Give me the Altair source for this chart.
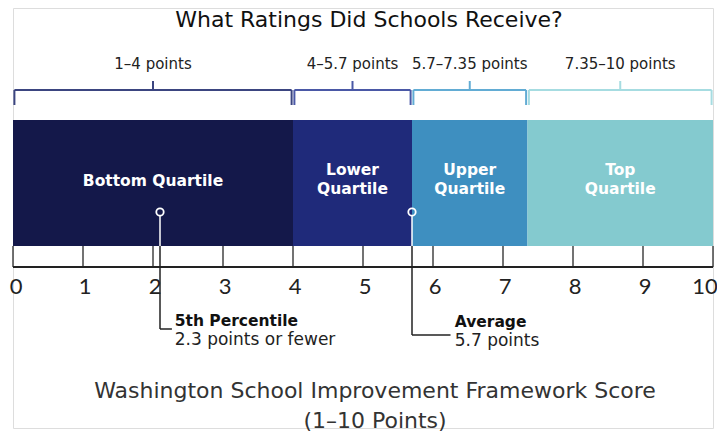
import altair as alt
import pandas as pd

# ---- data ----
quartiles = ["Bottom Quartile", "Lower\nQuartile", "Upper\nQuartile", "Top\nQuartile"]
starts = [0, 4, 5.7, 7.35]
ends = [4, 5.7, 7.35, 10]
range_labels = ["1–4 points", "4–5.7 points", "5.7–7.35 points", "7.35–10 points"]
bar_colors = ["#14184a", "#1f2a7a", "#3e8fc0", "#84cacf"]
bracket_colors = ["#3b4580", "#4a58a6", "#62acd4", "#a6dce1"]
ticks = list(range(0, 11))
marker_names = ["5th Percentile", "Average"]
marker_values = [2.1, 5.7]
marker_notes = ["2.3 points or fewer", "5.7 points"]

# ---- layout (pixels from top of plot area) ----
W, H = 700, 420
BAR_TOP, BAR_BOT = 112, 238
AXIS_Y = 259
TICK_LABEL_Y = 279
BR_Y, BR_END, BR_TOP, BR_LABEL = 82, 97, 73, 56
MARK_Y = 204
FONT = "DejaVu Sans"
NUMFONT = "Lato"

xs = alt.Scale(domain=[0, 10], range=[0, W], nice=False, zero=False)
ys = alt.Scale(domain=[H, 0], nice=False, zero=False)
X = lambda f: alt.X(f, scale=xs, axis=None)
Y = lambda f: alt.Y(f, scale=ys, axis=None)

q = pd.DataFrame({
    "name": quartiles, "start": starts, "end": ends, "rng": range_labels,
    "color": bar_colors, "bcolor": bracket_colors,
})
q["mid"] = (q["start"] + q["end"]) / 2
q["bs"] = q["start"] + 0.02
q["be"] = q["end"] - 0.02
q["top"] = BAR_TOP
q["bot"] = BAR_BOT
q["lab_y"] = [175, 164, 164, 164]
q["bry"] = BR_Y
q["bre"] = BR_END
q["brt"] = BR_TOP
q["bl"] = BR_LABEL

bars = alt.Chart(q).mark_rect().encode(
    x=X("start:Q"), x2="end:Q", y=Y("top:Q"), y2="bot:Q",
    color=alt.Color("color:N", scale=None),
)
bar_text = alt.Chart(q).mark_text(
    color="white", font=FONT, fontWeight="bold", fontSize=15.5,
    lineBreak="\n", lineHeight=19, baseline="top", dy=-9,
).encode(x=X("mid:Q"), y=Y("lab_y:Q"), text="name:N")

br_h = alt.Chart(q).mark_rule(strokeWidth=2).encode(
    x=X("bs:Q"), x2="be:Q", y=Y("bry:Q"), color=alt.Color("bcolor:N", scale=None))
br_l = alt.Chart(q).mark_rule(strokeWidth=2).encode(
    x=X("bs:Q"), y=Y("bry:Q"), y2="bre:Q", color=alt.Color("bcolor:N", scale=None))
br_r = alt.Chart(q).mark_rule(strokeWidth=2).encode(
    x=X("be:Q"), y=Y("bry:Q"), y2="bre:Q", color=alt.Color("bcolor:N", scale=None))
br_c = alt.Chart(q).mark_rule(strokeWidth=2).encode(
    x=X("mid:Q"), y=Y("brt:Q"), y2="bry:Q", color=alt.Color("bcolor:N", scale=None))
br_t = alt.Chart(q).mark_text(font=FONT, fontSize=15, color="#222").encode(
    x=X("mid:Q"), y=Y("bl:Q"), text="rng:N")

t = pd.DataFrame({"v": ticks, "lab": [str(v) for v in ticks]})
t["a"] = BAR_BOT
t["b"] = AXIS_Y
t["ly"] = TICK_LABEL_Y
t["dx"] = [3] + [2] * 9 + [-8]
tick_rules = alt.Chart(t).mark_rule(color="#444", strokeWidth=1.5).encode(
    x=X("v:Q"), y=Y("a:Q"), y2="b:Q")
tick_labels = alt.Chart(t).transform_calculate(
    vx="datum.v + datum.dx / %f" % (W / 10.0)
).mark_text(font=NUMFONT, fontSize=22, color="#222").encode(
    x=X("vx:Q"), y=Y("ly:Q"), text="lab:N")
baseline = alt.Chart(pd.DataFrame({"a": [0], "b": [10], "y": [AXIS_Y]})).mark_rule(
    color="#222", strokeWidth=2).encode(x=X("a:Q"), x2="b:Q", y=Y("y:Q"))

m = pd.DataFrame({"name": marker_names, "v": marker_values, "note": marker_notes})
m["my"] = MARK_Y
m["cy"] = MARK_Y + 4
m["bb"] = BAR_BOT
m["end_y"] = [321, 327]
m["hx"] = [2.27, 6.25]
m["tx"] = [2.31, 6.31]
m["t1"] = [313, 314]
m["t2"] = [332, 333]

m_white = alt.Chart(m).mark_rule(color="white", strokeWidth=1.5).encode(
    x=X("v:Q"), y=Y("cy:Q"), y2="bb:Q")
m_dark = alt.Chart(m).mark_rule(color="#222", strokeWidth=1.5).encode(
    x=X("v:Q"), y=Y("bb:Q"), y2="end_y:Q")
m_h = alt.Chart(m).mark_rule(color="#222", strokeWidth=1.5).encode(
    x=X("v:Q"), x2="hx:Q", y=Y("end_y:Q"))
m_circ = alt.Chart(m).mark_point(shape="circle", size=55, stroke="white",
                                 strokeWidth=1.8, filled=False, opacity=1).encode(
    x=X("v:Q"), y=Y("my:Q"))
m_t1 = alt.Chart(m).mark_text(font=FONT, fontSize=15.5, fontWeight="bold", color="#111",
                              align="left").encode(x=X("tx:Q"), y=Y("t1:Q"), text="name:N")
m_t2 = alt.Chart(m).mark_text(font=FONT, fontSize=17, color="#222",
                              align="left").encode(x=X("tx:Q"), y=Y("t2:Q"), text="note:N")

titles = pd.DataFrame({
    "txt": ["What Ratings Did Schools Receive?",
            "Washington School Improvement Framework Score", "(1–10 Points)"],
    "y": [12, 383, 413],
    "x": [356, 362, 362],
})
title_main = alt.Chart(titles.iloc[[0]]).mark_text(
    font=FONT, fontSize=22, color="#111").encode(
    x=alt.X("x:Q", scale=None), y=Y("y:Q"), text="txt:N")
title_x = alt.Chart(titles.iloc[1:]).mark_text(
    font=FONT, fontSize=22, color="#333").encode(
    x=alt.X("x:Q", scale=None), y=Y("y:Q"), text="txt:N")

chart = alt.layer(
    bars, bar_text, br_h, br_l, br_r, br_c, br_t,
    tick_rules, baseline, tick_labels,
    m_white, m_dark, m_h, m_circ, m_t1, m_t2,
    title_main, title_x,
).properties(
    width=W, height=H,
    autosize=alt.AutoSizeParams(type="none"),
    padding={"left": 5, "top": 0, "right": 4, "bottom": 4},
).configure_view(stroke=None).configure(background="white")

chart.save("out.html", embed_options={"renderer": "svg", "actions": False})
